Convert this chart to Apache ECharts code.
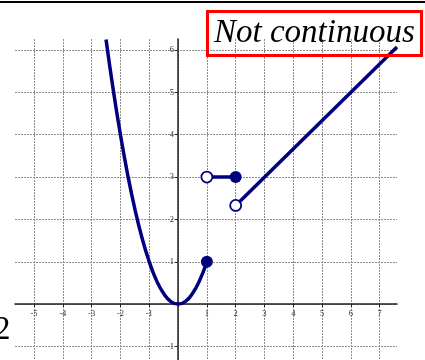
<!DOCTYPE html>
<html>
<head>
<meta charset="utf-8">
<script src="https://cdn.jsdelivr.net/npm/echarts@6/dist/echarts.min.js"></script>
<style>
  html, body { margin: 0; padding: 0; background: #fff; }
  #chart { width: 425px; height: 360px; }
</style>
</head>
<body>
<div id="chart"></div>
<script>
// axis ticks and labels
const xTicks = [-5, -4, -3, -2, -1, 0, 1, 2, 3, 4, 5, 6, 7];
const yTicks = [-1, 0, 1, 2, 3, 4, 5, 6];
const xLabels = [-5, -4, -3, -2, -1, 1, 2, 3, 4, 5, 6, 7];
const yLabels = [-1, 1, 2, 3, 4, 5, 6];

// curved piece
const curveX = [-2.5, -2.25, -2, -1.75, -1.5, -1.25, -1, -0.75, -0.5, -0.25, 0, 0.25, 0.5, 0.75, 1];
const curveY = [6.25, 5.06, 4, 3.06, 2.25, 1.56, 1, 0.56, 0.25, 0.06, 0, 0.06, 0.25, 0.56, 1];

// flat piece
const flatX = [1, 2];
const flatY = [3, 3];

// rising piece
const riseX = [2, 7.6];
const riseY = [2.33, 6.07];

// end points
const closedDots = [[1, 1], [2, 3]];
const openDots = [[1, 3], [2, 2.33]];

const navy = '#00007f';
const zip = (xs, ys) => xs.map((x, i) => [x, ys[i]]);

const chart = echarts.init(document.getElementById('chart'));

const lineSeries = (data, smooth) => ({
    type: 'line',
    data: data,
    smooth: smooth,
    showSymbol: false,
    lineStyle: { color: navy, width: 3.5 },
    z: 3
});

const gridLine = { show: true, lineStyle: { color: '#8c8c8c', type: [2, 1], width: 1 } };
const tickLabel = { color: '#333', fontSize: 8.5, fontFamily: 'Liberation Serif' };

chart.setOption({
    animation: false,
    grid: { left: 15, right: 28, top: 39, bottom: 0, outerBoundsMode: 'none', containLabel: false },
    xAxis: {
        type: 'value',
        min: -5.66,
        max: 7.6,
        position: 'bottom',
        offset: -56,
        axisLine: { onZero: false, lineStyle: { color: '#222', width: 1.5 } },
        axisTick: { customValues: xTicks, inside: false, length: 3, lineStyle: { color: '#222' } },
        axisLabel: Object.assign({ customValues: xLabels, margin: 5 }, tickLabel),
        splitLine: gridLine
    },
    yAxis: {
        type: 'value',
        min: -1.32,
        max: 6.26,
        position: 'left',
        offset: -163,
        axisLine: { onZero: false, lineStyle: { color: '#222', width: 1.5 } },
        axisTick: { customValues: yTicks, inside: false, length: 3, lineStyle: { color: '#222' } },
        axisLabel: Object.assign({ customValues: yLabels, margin: 4 }, tickLabel),
        splitLine: gridLine
    },
    series: [
        lineSeries(zip(curveX, curveY), true),
        lineSeries(zip(flatX, flatY), false),
        lineSeries(zip(riseX, riseY), false),
        {
            type: 'scatter',
            data: closedDots,
            symbolSize: 12,
            itemStyle: { color: navy, opacity: 1 },
            z: 4
        },
        {
            type: 'scatter',
            data: openDots,
            symbolSize: 11,
            itemStyle: { color: '#fff', borderColor: navy, borderWidth: 1.8, opacity: 1 },
            z: 4
        }
    ],
    graphic: [
        {
            type: 'rect',
            shape: { x: 0, y: 1, width: 425, height: 2 },
            style: { fill: '#000' }
        },
        {
            type: 'rect',
            shape: { x: 207.5, y: 11.5, width: 214, height: 44 },
            style: { fill: 'none', stroke: '#ff0000', lineWidth: 3 },
            z: 10
        },
        {
            type: 'text',
            x: 214,
            y: 17,
            style: {
                text: 'Not continuous',
                font: 'italic 33px "Liberation Serif"',
                fill: '#000'
            },
            z: 10
        },
        {
            type: 'text',
            x: -6,
            y: 314,
            style: {
                text: '2',
                font: '33px "Liberation Serif"',
                fill: '#000'
            },
            z: 10
        }
    ]
});
</script>
</body>
</html>
